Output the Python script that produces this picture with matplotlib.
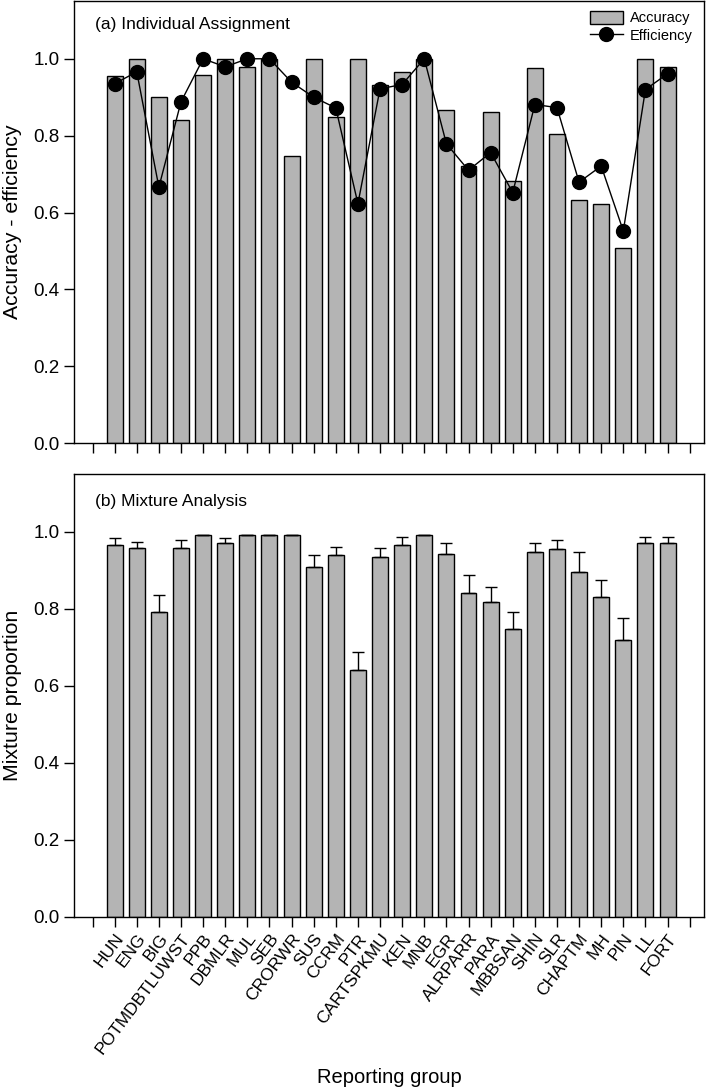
import numpy as np
import matplotlib
matplotlib.use("Agg")
import matplotlib.pyplot as plt
from matplotlib.lines import Line2D
from matplotlib.patches import Patch

plt.rcParams['font.family'] = ['Liberation Sans', 'DejaVu Sans']

groups = ["HUN", "ENG", "BIG", "POTMDBTLUWST", "PPB", "DBMLR", "MUL", "SEB",
          "CRORWR", "SUS", "CCRM", "PTR", "CARTSPKMU", "KEN", "MNB", "EGR",
          "ALRPARR", "PARA", "MBBSAN", "SHIN", "SLR", "CHAPTM", "MH", "PIN",
          "LL", "FORT"]

accuracy = [0.956, 1.0, 0.900, 0.842, 0.959, 1.0, 0.979, 1.0, 0.746, 1.0,
            0.849, 1.0, 0.932, 0.966, 1.0, 0.867, 0.721, 0.861, 0.681, 0.977,
            0.804, 0.632, 0.621, 0.509, 1.0, 0.979]
efficiency = [0.935, 0.966, 0.666, 0.888, 1.0, 0.979, 1.0, 1.0, 0.939, 0.900,
              0.872, 0.623, 0.922, 0.933, 1.0, 0.779, 0.710, 0.756, 0.652, 0.881,
              0.873, 0.679, 0.721, 0.552, 0.920, 0.961]

mixture = [0.966, 0.956, 0.790, 0.957, 0.990, 0.971, 0.990, 0.990, 0.990, 0.909,
           0.938, 0.640, 0.934, 0.964, 0.990, 0.942, 0.840, 0.818, 0.748, 0.947,
           0.955, 0.894, 0.829, 0.718, 0.971, 0.971]
mixture_err = [0.018, 0.017, 0.045, 0.021, 0.0, 0.011, 0.0, 0.0, 0.002, 0.030,
               0.022, 0.048, 0.024, 0.023, 0.0, 0.027, 0.047, 0.037, 0.042, 0.022,
               0.024, 0.052, 0.045, 0.058, 0.014, 0.014]

yticks = [0.0, 0.2, 0.4, 0.6, 0.8, 1.0]

fig = plt.figure(figsize=(7.09, 10.89), dpi=100)
ax1 = fig.add_axes([0.104, 0.593, 0.889, 0.406])
ax2 = fig.add_axes([0.104, 0.158, 0.889, 0.407])

x = np.arange(len(groups))
bar_color = '#b4b4b4'
bw = 0.72

ax1.bar(x, accuracy, width=bw, color=bar_color, edgecolor='black', linewidth=1.0, zorder=2)
ax1.plot(x, efficiency, color='black', linewidth=1.0, marker='o', markersize=10,
         markerfacecolor='black', markeredgecolor='black', zorder=3)

ax2.bar(x, mixture, width=bw, color=bar_color, edgecolor='black', linewidth=1.0, zorder=2)
ax2.errorbar(x, mixture, yerr=[np.zeros(len(mixture)), mixture_err], fmt='none',
             ecolor='black', elinewidth=1.0, capsize=4.5, capthick=1.0, zorder=3)

tick_pos = np.arange(-1, len(groups) + 1)
for ax in (ax1, ax2):
    ax.set_xlim(-1.85, 26.65)
    ax.set_ylim(0, 1.15)
    ax.set_yticks(yticks)
    ax.set_yticklabels([f"{v:.1f}" for v in yticks], fontsize=13.5)
    ax.set_xticks(tick_pos)
    ax.tick_params(axis='both', direction='out', length=7, width=1.0, pad=3,
                   top=False, right=False)
    for s in ax.spines.values():
        s.set_linewidth(1.0)

ax1.set_xticklabels([])
ax2.set_xticklabels([""] + groups + [""], rotation=53, ha='right', rotation_mode='anchor',
                    fontsize=12.6)

ax1.set_ylabel("Accuracy - efficiency", fontsize=15.3, labelpad=8)
ax2.set_ylabel("Mixture proportion", fontsize=15.3, labelpad=8)
ax2.set_xlabel("Reporting group", fontsize=14.5, labelpad=8)

ax1.text(0.033, 0.946, "(a) Individual Assignment", transform=ax1.transAxes, fontsize=12.5,
         va='center', ha='left')
ax2.text(0.033, 0.937, "(b) Mixture Analysis", transform=ax2.transAxes, fontsize=12.5,
         va='center', ha='left')

handles = [Patch(facecolor=bar_color, edgecolor='black', linewidth=1.0),
           Line2D([0], [0], color='black', linewidth=1.0, marker='o', markersize=10)]
ax1.legend(handles, ["Accuracy", "Efficiency"], loc='upper right', frameon=False,
           fontsize=10.5, handlelength=2.2, handleheight=1.0, labelspacing=0.2,
           borderaxespad=0.25, handletextpad=0.5, bbox_to_anchor=(0.997, 1.0))

fig.savefig("out.png", dpi=100)
